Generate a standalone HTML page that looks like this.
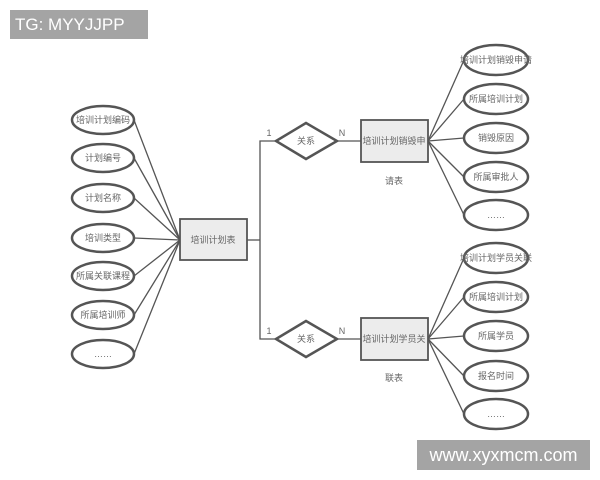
<!DOCTYPE html>
<html><head><meta charset="utf-8"><style>
body{margin:0;width:600px;height:480px;background:#fff;overflow:hidden;position:relative}
svg{position:absolute;left:0;top:0}
text{font-family:"Liberation Sans","Noto Sans CJK SC",sans-serif;fill:#666;font-size:9px;text-anchor:middle;dominant-baseline:central}
.wm{position:absolute;background:#a4a4a4;color:#fff;font-family:"Liberation Sans",sans-serif}
</style></head><body>
<svg width="600" height="480" viewBox="0 0 600 480">
<g stroke="#555" stroke-width="1.3" fill="none">
<line x1="134" y1="120" x2="180" y2="240"/>
<line x1="134" y1="158" x2="180" y2="240"/>
<line x1="134" y1="198" x2="180" y2="240"/>
<line x1="134" y1="238" x2="180" y2="240"/>
<line x1="134" y1="276" x2="180" y2="240"/>
<line x1="134" y1="315" x2="180" y2="240"/>
<line x1="134" y1="354" x2="180" y2="240"/>
<polyline points="247,240 260,240"/>
<polyline points="276,141 260,141 260,339 276,339"/>
<line x1="337" y1="141" x2="361" y2="141"/>
<line x1="337" y1="339" x2="361" y2="339"/>
<line x1="428" y1="141" x2="464" y2="60"/>
<line x1="428" y1="141" x2="464" y2="99"/>
<line x1="428" y1="141" x2="464" y2="138"/>
<line x1="428" y1="141" x2="464" y2="177"/>
<line x1="428" y1="141" x2="464" y2="215"/>
<line x1="428" y1="339" x2="464" y2="258"/>
<line x1="428" y1="339" x2="464" y2="297"/>
<line x1="428" y1="339" x2="464" y2="336"/>
<line x1="428" y1="339" x2="464" y2="376"/>
<line x1="428" y1="339" x2="464" y2="414"/>
</g>
<g stroke="#555" stroke-width="2.5" fill="#fff">
<ellipse cx="103" cy="120" rx="31" ry="14"/>
<ellipse cx="103" cy="158" rx="31" ry="14"/>
<ellipse cx="103" cy="198" rx="31" ry="14"/>
<ellipse cx="103" cy="238" rx="31" ry="14"/>
<ellipse cx="103" cy="276" rx="31" ry="14"/>
<ellipse cx="103" cy="315" rx="31" ry="14"/>
<ellipse cx="103" cy="354" rx="31" ry="14"/>
<ellipse cx="496" cy="60" rx="32" ry="15"/>
<ellipse cx="496" cy="99" rx="32" ry="15"/>
<ellipse cx="496" cy="138" rx="32" ry="15"/>
<ellipse cx="496" cy="177" rx="32" ry="15"/>
<ellipse cx="496" cy="215" rx="32" ry="15"/>
<ellipse cx="496" cy="258" rx="32" ry="15"/>
<ellipse cx="496" cy="297" rx="32" ry="15"/>
<ellipse cx="496" cy="336" rx="32" ry="15"/>
<ellipse cx="496" cy="376" rx="32" ry="15"/>
<ellipse cx="496" cy="414" rx="32" ry="15"/>
<polygon points="276,141 306,123 337,141 306,159"/>
<polygon points="276,339 306,321 337,339 306,357"/>
</g>
<g stroke="#555" stroke-width="1.8" fill="#ececec">
<rect x="180" y="219" width="67" height="41"/>
<rect x="361" y="120" width="67" height="42"/>
<rect x="361" y="318" width="67" height="42"/>
</g>
<text x="103" y="120">培训计划编码</text>
<text x="103" y="158">计划编号</text>
<text x="103" y="198">计划名称</text>
<text x="103" y="238">培训类型</text>
<text x="103" y="276">所属关联课程</text>
<text x="103" y="315">所属培训师</text>
<text x="103" y="354">……</text>
<text x="213" y="240" font-size="10">培训计划表</text>
<text x="306" y="141" font-size="10">关系</text>
<text x="306" y="339" font-size="10">关系</text>
<text x="269" y="133">1</text><text x="342" y="133">N</text>
<text x="269" y="331">1</text><text x="342" y="331">N</text>
<text x="394" y="141" font-size="10">培训计划销毁申</text>
<text x="394" y="181" font-size="10">请表</text>
<text x="394" y="339" font-size="10">培训计划学员关</text>
<text x="394" y="378" font-size="10">联表</text>
<text x="496" y="60">培训计划销毁申请</text>
<text x="496" y="99">所属培训计划</text>
<text x="496" y="138">销毁原因</text>
<text x="496" y="177">所属审批人</text>
<text x="496" y="215">……</text>
<text x="496" y="258">培训计划学员关联</text>
<text x="496" y="297">所属培训计划</text>
<text x="496" y="336">所属学员</text>
<text x="496" y="376">报名时间</text>
<text x="496" y="414">……</text>
</svg>
<div class="wm" style="left:10px;top:10px;width:138px;height:29px;font-size:17px;line-height:29px;text-indent:5px">TG: MYYJJPP</div>
<div class="wm" style="left:417px;top:440px;width:173px;height:30px;font-size:18px;line-height:30px;text-align:center">www.xyxmcm.com</div>
</body></html>
